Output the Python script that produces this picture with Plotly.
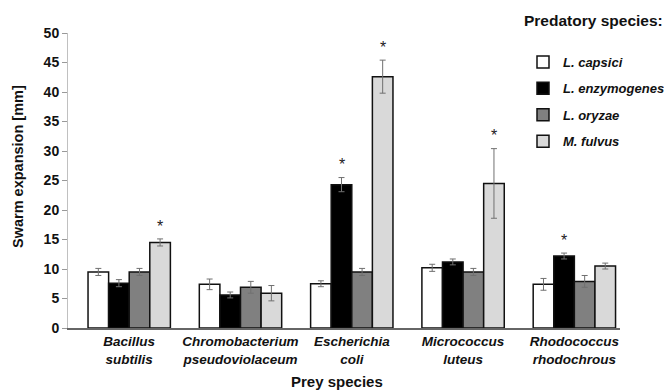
import plotly.graph_objects as go

categories = ["Bacillus<br>subtilis",
              "Chromobacterium<br>pseudoviolaceum",
              "Escherichia<br>coli",
              "Micrococcus<br>luteus",
              "Rhodococcus<br>rhodochrous"]
series_names = ["L. capsici", "L. enzymogenes", "L. oryzae", "M. fulvus"]
capsici = [9.5, 7.4, 7.5, 10.2, 7.4]
capsici_err = [0.6, 0.9, 0.5, 0.6, 1.0]
enzymogenes = [7.6, 5.6, 24.3, 11.2, 12.2]
enzymogenes_err = [0.6, 0.5, 1.2, 0.5, 0.5]
oryzae = [9.5, 6.9, 9.5, 9.5, 7.9]
oryzae_err = [0.6, 1.0, 0.6, 0.6, 1.0]
fulvus = [14.5, 5.9, 42.6, 24.5, 10.5]
fulvus_err = [0.6, 1.3, 2.8, 5.9, 0.5]
signif = [[False]*5,
          [False, False, True, False, True],
          [False]*5,
          [True, False, True, True, False]]
colors = ["#ffffff", "#000000", "#808080", "#d9d9d9"]
yticks = list(range(0, 55, 5))

values = [capsici, enzymogenes, oryzae, fulvus]
errors = [capsici_err, enzymogenes_err, oryzae_err, fulvus_err]

FONT = "Liberation Sans, Arial, sans-serif"
fig = go.Figure()
for i, name in enumerate(series_names):
    fig.add_trace(go.Bar(
        x=categories, y=values[i], name=f"<b><i>{name}</i></b>",
        marker=dict(color=colors[i], line=dict(color="#111111", width=1.5)),
        error_y=dict(type="data", array=errors[i], visible=True,
                     color="#707070", thickness=1, width=3),
        legendgroup=str(i),
    ))

nser = len(series_names)
bargap = 0.26
bw = (1 - bargap) / nser
annotations = []
for i in range(nser):
    for j, cat in enumerate(categories):
        if signif[i][j]:
            off = -0.5 * (1 - bargap) + bw * (i + 0.5)
            annotations.append(dict(
                x=j + off, xref="x", y=values[i][j] + errors[i][j] + 0.4, yref="y",
                text="*", showarrow=False, yanchor="bottom",
                font=dict(family=FONT, size=16, color="#222222")))

# plot area in pixels: x 68..620, y 33..328
PW, PH = 552, 295.0
annotations.append(dict(
    text="<b>Predatory species:</b>", xref="paper", yref="paper",
    x=(522 - 68) / PW, y=(328 - 20) / PH, xanchor="left", yanchor="middle",
    showarrow=False, font=dict(family=FONT, size=15.5, color="#111111")))
annotations.append(dict(
    text="<b>Swarm expansion [mm]</b>", xref="paper", yref="paper",
    x=(18 - 68) / PW, y=(328 - 167) / PH, xanchor="center", yanchor="middle",
    textangle=-90, showarrow=False, font=dict(family=FONT, size=14.5, color="#111111")))
annotations.append(dict(
    text="<b>Prey species</b>", xref="paper", yref="paper",
    x=(337 - 68) / PW, y=(328 - 381) / PH, xanchor="center", yanchor="middle",
    showarrow=False, font=dict(family=FONT, size=15, color="#111111")))

fig.update_layout(
    width=664, height=390,
    margin=dict(l=68, r=44, t=33, b=62, autoexpand=False),
    paper_bgcolor="white", plot_bgcolor="white",
    barmode="group", bargap=bargap, bargroupgap=0,
    font=dict(family=FONT, color="#111111"),
    showlegend=True,
    legend=dict(x=(523 - 68) / PW, y=(328 - 47) / PH, xanchor="left", yanchor="top",
                font=dict(family=FONT, size=13, color="#111111"),
                tracegroupgap=6.5, bgcolor="rgba(0,0,0,0)", itemwidth=30),
    annotations=annotations,
    xaxis=dict(
        range=[-0.55, 4.41], showline=True, linecolor="#666666", linewidth=2,
        ticks="", tickfont=dict(family=FONT, size=13.5, color="#111111"),
        tickvals=categories,
        ticktext=[f"<b><i>{c.replace('<br>', '</i></b><br><b><i>')}</i></b>" for c in categories],
        showgrid=False, zeroline=False, automargin=False,
    ),
    yaxis=dict(
        range=[0, 50], tickvals=yticks, ticktext=[f"<b>{v}</b>" for v in yticks],
        showline=True, linecolor="#c0c0c0", linewidth=1,
        ticks="outside", ticklen=5, tickcolor="#999999",
        tickfont=dict(family=FONT, size=14, color="#111111"),
        showgrid=False, zeroline=False, automargin=False,
    ),
)
fig.write_html("out.html", config={"displayModeBar": False},
               post_script="document.body.style.margin='0';document.body.style.overflow='hidden';")
